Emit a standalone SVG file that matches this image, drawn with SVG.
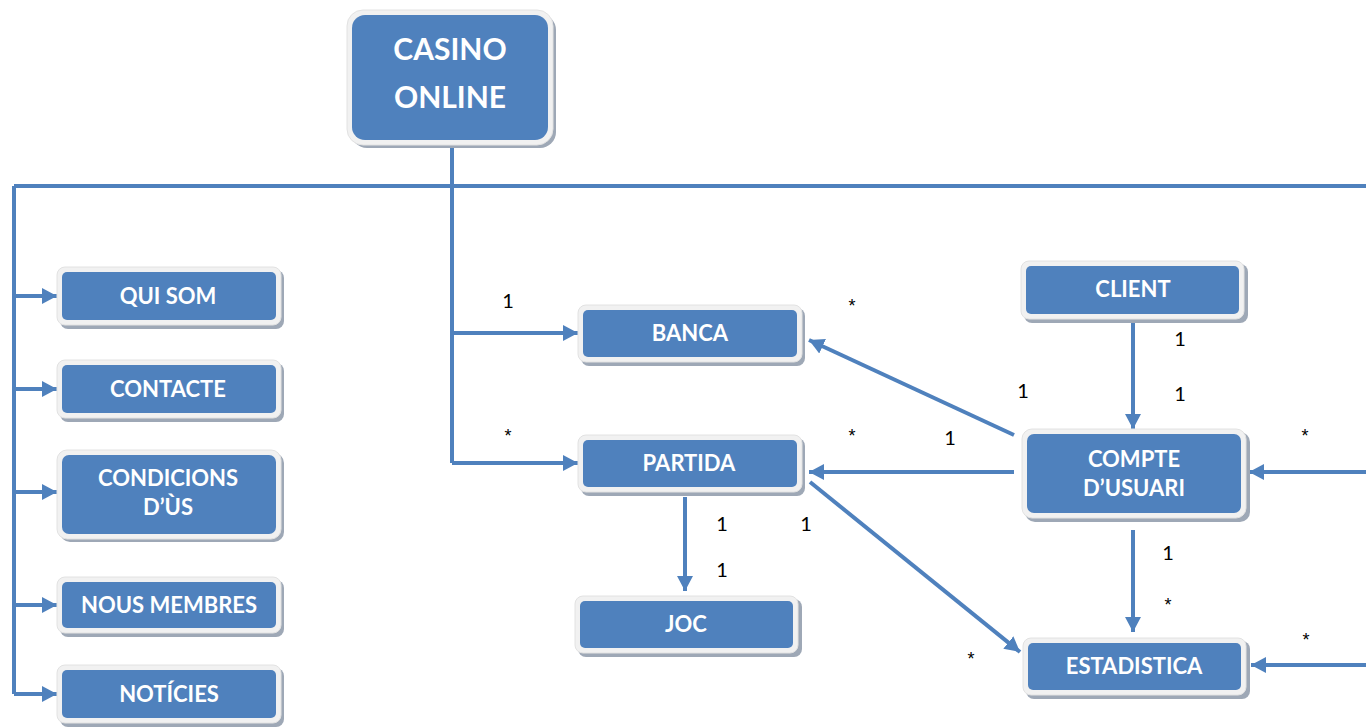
<svg xmlns="http://www.w3.org/2000/svg" width="1366" height="728" viewBox="0 0 1366 728">
<defs>
<style>
.sh{fill:#9ea8b6}
.fr{fill:#f1f1f1;stroke:#e2e2e2;stroke-width:1}
.bx{fill:#4f81bd}
.t{fill:#ffffff;font-family:Lato,"Open Sans",sans-serif;font-weight:bold;font-size:22px;text-anchor:middle}
.big{font-size:30px}
.ln{stroke:#4f81bd;stroke-width:4;fill:none}
.lb{fill:#000;font-family:Lato,"Liberation Sans",sans-serif;font-size:20px;text-anchor:middle}
.st{fill:#000;font-family:"Liberation Sans",sans-serif;font-size:18px;text-anchor:middle}
</style>
<marker id="ah" markerUnits="userSpaceOnUse" markerWidth="16" markerHeight="16" refX="15" refY="8" orient="auto">
<path d="M0,0 L15,8 L0,16 Z" fill="#4f81bd"/>
</marker>
</defs>
<rect width="1366" height="728" fill="#ffffff"/>

<g id="connectors">
<path class="ln" d="M452,147 V463"/>
<path class="ln" d="M14,186 H1366"/>
<path class="ln" d="M14,186 V694"/>
<path class="ln" d="M14,296 H57" marker-end="url(#ah)"/>
<path class="ln" d="M14,389 H57" marker-end="url(#ah)"/>
<path class="ln" d="M14,492 H57" marker-end="url(#ah)"/>
<path class="ln" d="M14,605 H57" marker-end="url(#ah)"/>
<path class="ln" d="M14,694 H57" marker-end="url(#ah)"/>
<path class="ln" d="M452,333 H578" marker-end="url(#ah)"/>
<path class="ln" d="M452,463 H578" marker-end="url(#ah)"/>
<path class="ln" d="M1133,322 V429" marker-end="url(#ah)"/>
<path class="ln" d="M1014,435 L809,340" marker-end="url(#ah)"/>
<path class="ln" d="M1014,472 H809" marker-end="url(#ah)"/>
<path class="ln" d="M810,482 L1020,652" marker-end="url(#ah)"/>
<path class="ln" d="M685,497 V591" marker-end="url(#ah)"/>
<path class="ln" d="M1133,530 V632" marker-end="url(#ah)"/>
<path class="ln" d="M1366,472 H1249" marker-end="url(#ah)"/>
<path class="ln" d="M1366,665 H1251" marker-end="url(#ah)"/>
</g>

<g id="labels">
<text class="lb" x="508" y="308">1</text>
<text class="st" x="852" y="312">*</text>
<text class="st" x="508" y="442">*</text>
<text class="st" x="852" y="442">*</text>
<text class="lb" x="950" y="445">1</text>
<text class="lb" x="1023" y="398">1</text>
<text class="lb" x="1180" y="346">1</text>
<text class="lb" x="1180" y="401">1</text>
<text class="st" x="1305" y="442">*</text>
<text class="lb" x="722" y="531">1</text>
<text class="lb" x="806" y="531">1</text>
<text class="lb" x="722" y="577">1</text>
<text class="lb" x="1168" y="560">1</text>
<text class="st" x="1168" y="611">*</text>
<text class="st" x="1306" y="646">*</text>
<text class="st" x="971" y="665">*</text>
</g>

<g id="casino-online">
<rect class="sh" x="351" y="14" width="205" height="134" rx="16"/>
<rect class="fr" x="347" y="10" width="206" height="135" rx="16"/>
<rect class="bx" x="352" y="15" width="196" height="125" rx="13"/>
<text class="t big" x="450" y="60">CASINO</text>
<text class="t big" x="450" y="108">ONLINE</text>
</g>

<g id="qui-som">
<rect class="sh" x="60" y="270" width="224" height="59" rx="8"/>
<rect class="fr" x="57" y="267" width="224" height="58" rx="8"/>
<rect class="bx" x="62" y="272" width="214" height="48" rx="5"/>
<text class="t" x="168" y="304">QUI SOM</text>
</g>

<g id="contacte">
<rect class="sh" x="60" y="363" width="224" height="59" rx="8"/>
<rect class="fr" x="57" y="360" width="224" height="58" rx="8"/>
<rect class="bx" x="62" y="365" width="214" height="48" rx="5"/>
<text class="t" x="168" y="397">CONTACTE</text>
</g>

<g id="condicions">
<rect class="sh" x="60" y="453" width="224" height="89" rx="10"/>
<rect class="fr" x="57" y="450" width="224" height="89" rx="10"/>
<rect class="bx" x="62" y="455" width="214" height="79" rx="7"/>
<text class="t" x="168" y="486">CONDICIONS</text>
<text class="t" x="168" y="515">D’ÙS</text>
</g>

<g id="nous-membres">
<rect class="sh" x="60" y="580" width="224" height="57" rx="8"/>
<rect class="fr" x="57" y="577" width="224" height="56" rx="8"/>
<rect class="bx" x="62" y="582" width="214" height="46" rx="5"/>
<text class="t" x="169" y="613">NOUS MEMBRES</text>
</g>

<g id="noticies">
<rect class="sh" x="60" y="668" width="224" height="59" rx="8"/>
<rect class="fr" x="57" y="665" width="224" height="58" rx="8"/>
<rect class="bx" x="62" y="670" width="214" height="48" rx="5"/>
<text class="t" x="169" y="702">NOTÍCIES</text>
</g>

<g id="banca">
<rect class="sh" x="581" y="308" width="224" height="58" rx="8"/>
<rect class="fr" x="578" y="305" width="224" height="57" rx="8"/>
<rect class="bx" x="583" y="310" width="214" height="47" rx="5"/>
<text class="t" x="690" y="341">BANCA</text>
</g>

<g id="partida">
<rect class="sh" x="581" y="438" width="224" height="58" rx="8"/>
<rect class="fr" x="578" y="435" width="224" height="57" rx="8"/>
<rect class="bx" x="583" y="440" width="214" height="47" rx="5"/>
<text class="t" x="689" y="471">PARTIDA</text>
</g>

<g id="joc">
<rect class="sh" x="578" y="599" width="224" height="58" rx="8"/>
<rect class="fr" x="575" y="596" width="223" height="57" rx="8"/>
<rect class="bx" x="580" y="601" width="213" height="47" rx="5"/>
<text class="t" x="686" y="632">JOC</text>
</g>

<g id="client">
<rect class="sh" x="1024" y="264" width="224" height="59" rx="8"/>
<rect class="fr" x="1021" y="261" width="223" height="58" rx="8"/>
<rect class="bx" x="1026" y="266" width="213" height="48" rx="5"/>
<text class="t" x="1133" y="297">CLIENT</text>
</g>

<g id="compte-usuari">
<rect class="sh" x="1025" y="432" width="225" height="90" rx="10"/>
<rect class="fr" x="1022" y="429" width="224" height="89" rx="10"/>
<rect class="bx" x="1027" y="434" width="214" height="79" rx="7"/>
<text class="t" x="1134" y="467">COMPTE</text>
<text class="t" x="1134" y="496">D’USUARI</text>
</g>

<g id="estadistica">
<rect class="sh" x="1026" y="641" width="224" height="58" rx="8"/>
<rect class="fr" x="1023" y="638" width="223" height="57" rx="8"/>
<rect class="bx" x="1028" y="643" width="213" height="47" rx="5"/>
<text class="t" x="1134" y="674">ESTADISTICA</text>
</g>
</svg>
